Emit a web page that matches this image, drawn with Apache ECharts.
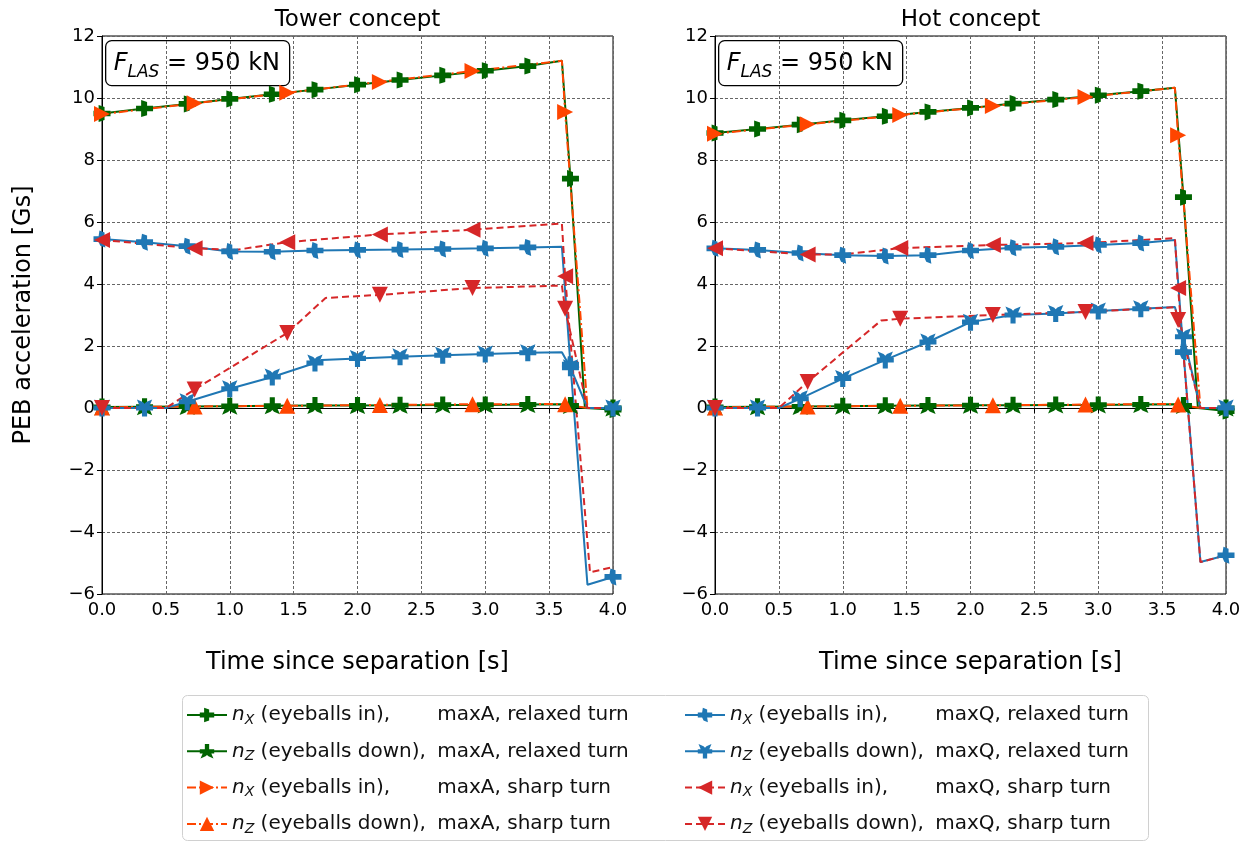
<!DOCTYPE html>
<html><head><meta charset="utf-8">
<script src="https://cdn.jsdelivr.net/npm/echarts@6/dist/echarts.min.js"></script>
<style>html,body{margin:0;padding:0;background:#fff}#c{width:1253px;height:843px}</style>
</head><body><div id="c"></div>
<script>
// ---------- marker times ----------
const markTimesRelaxed = [0, 0.333, 0.667, 1.0, 1.333, 1.667, 2.0, 2.333, 2.667, 3.0, 3.333, 3.667, 4.0];
const markTimesSharp = [0, 0.725, 1.45, 2.175, 2.9, 3.625];

// ---------- Tower concept ----------
const towerNxMaxARelaxedMarks = [9.5, 9.66, 9.81, 9.97, 10.12, 10.27, 10.43, 10.58, 10.73, 10.88, 11.03, 7.4, -0.05];
const towerNxMaxARelaxedBends = [[3.6, 11.2], [3.78, 0]];
const towerNzMaxARelaxedMarks = [0.03, 0.04, 0.05, 0.06, 0.07, 0.08, 0.08, 0.09, 0.1, 0.1, 0.11, 0.08, 0];
const towerNzMaxARelaxedBends = [[3.6, 0.12], [3.78, 0]];
const towerNxMaxASharpMarks = [9.48, 9.83, 10.17, 10.52, 10.87, 9.55];
const towerNxMaxASharpBends = [[3.6, 11.2], [3.8, 0], [4.0, 0]];
const towerNzMaxASharpMarks = [0.02, 0.05, 0.07, 0.1, 0.12, 0.12];
const towerNzMaxASharpBends = [[3.6, 0.13], [3.8, 0], [4.0, 0]];
const towerNxMaxQRelaxedMarks = [5.45, 5.35, 5.22, 5.05, 5.04, 5.08, 5.1, 5.11, 5.13, 5.15, 5.18, 1.4, -5.45];
const towerNxMaxQRelaxedBends = [[3.6, 5.2], [3.8, -5.7]];
const towerNzMaxQRelaxedMarks = [0, 0, 0.2, 0.62, 1.0, 1.45, 1.6, 1.65, 1.7, 1.74, 1.78, 1.3, 0];
const towerNzMaxQRelaxedBends = [[0.5, 0], [1.72, 1.55], [3.6, 1.8], [3.8, 0]];
const towerNxMaxQSharpMarks = [5.42, 5.15, 5.35, 5.6, 5.75, 4.25];
const towerNxMaxQSharpBends = [[1.05, 5.1], [3.6, 5.95], [3.82, -5.3], [4.0, -5.13]];
const towerNzMaxQSharpMarks = [0, 0.6, 2.42, 3.65, 3.87, 3.2];
const towerNzMaxQSharpBends = [[0.5, 0], [1.75, 3.55], [3.6, 3.95], [3.8, 0], [4.0, 0]];

// ---------- Hot concept ----------
const hotNxMaxARelaxedMarks = [8.87, 9.0, 9.14, 9.28, 9.41, 9.55, 9.68, 9.82, 9.95, 10.09, 10.22, 6.8, -0.1];
const hotNxMaxARelaxedBends = [[3.6, 10.33], [3.78, 0]];
const hotNzMaxARelaxedMarks = [0.03, 0.04, 0.05, 0.06, 0.07, 0.08, 0.09, 0.09, 0.1, 0.1, 0.11, 0.08, 0];
const hotNzMaxARelaxedBends = [[3.6, 0.12], [3.78, 0]];
const hotNxMaxASharpMarks = [8.85, 9.15, 9.45, 9.74, 10.03, 8.8];
const hotNxMaxASharpBends = [[3.6, 10.33], [3.8, 0], [4.0, 0]];
const hotNzMaxASharpMarks = [0.02, 0.05, 0.07, 0.09, 0.11, 0.11];
const hotNzMaxASharpBends = [[3.6, 0.13], [3.8, 0], [4.0, 0]];
const hotNxMaxQRelaxedMarks = [5.15, 5.1, 5.0, 4.93, 4.9, 4.93, 5.08, 5.17, 5.2, 5.26, 5.32, 1.8, -4.75];
const hotNxMaxQRelaxedBends = [[3.6, 5.42], [3.8, -4.97]];
const hotNzMaxQRelaxedMarks = [0, 0, 0.3, 0.95, 1.55, 2.13, 2.77, 3.0, 3.05, 3.13, 3.2, 2.3, 0];
const hotNzMaxQRelaxedBends = [[0.5, 0], [3.6, 3.26], [3.8, 0]];
const hotNxMaxQSharpMarks = [5.15, 4.95, 5.16, 5.26, 5.32, 3.87];
const hotNxMaxQSharpBends = [[1.0, 4.95], [3.6, 5.48], [3.8, -4.97], [4.0, -4.75]];
const hotNzMaxQSharpMarks = [0, 0.84, 2.88, 3.0, 3.1, 2.84];
const hotNzMaxQSharpBends = [[0.5, 0], [1.3, 2.82], [3.6, 3.25], [3.8, 0], [4.0, 0]];

// ---------- text ----------
const panelTitles = ['Tower concept', 'Hot concept'];
const xAxisName = 'Time since separation [s]';
const yAxisName = 'PEB acceleration [Gs]';
const seriesNames = ['nx_maxA_relaxed', 'nz_maxA_relaxed', 'nx_maxA_sharp', 'nz_maxA_sharp',
                     'nx_maxQ_relaxed', 'nz_maxQ_relaxed', 'nx_maxQ_sharp', 'nz_maxQ_sharp'];
const legendLabels = {
  nx_maxA_relaxed: '{n|n}{s|X}{p| (eyeballs in),}{t|maxA, relaxed turn}',
  nz_maxA_relaxed: '{n|n}{s|Z}{p| (eyeballs down),}{t|maxA, relaxed turn}',
  nx_maxA_sharp:   '{n|n}{s|X}{p| (eyeballs in),}{t|maxA, sharp turn}',
  nz_maxA_sharp:   '{n|n}{s|Z}{p| (eyeballs down),}{t|maxA, sharp turn}',
  nx_maxQ_relaxed: '{n|n}{s|X}{p| (eyeballs in),}{t|maxQ, relaxed turn}',
  nz_maxQ_relaxed: '{n|n}{s|Z}{p| (eyeballs down),}{t|maxQ, relaxed turn}',
  nx_maxQ_sharp:   '{n|n}{s|X}{p| (eyeballs in),}{t|maxQ, sharp turn}',
  nz_maxQ_sharp:   '{n|n}{s|Z}{p| (eyeballs down),}{t|maxQ, sharp turn}'
};

const FONT = 'DejaVu Sans';
const NX_G = 'path://M0,7 L6,7 L6,1 L13,3 L13,7 L20,7 L20,13 L13,13 L13,17 L6,19 L6,13 L0,13 Z';
const NZ_G = 'path://M7,0 L13,0 L13,7 L20,7 L20,13 L16,13 L19,20 L12,17 L10,15 L8,17 L1,20 L4,13 L0,13 L0,7 L7,7 Z';
const NX_B = 'path://M0,7 L6,7 L7,1 L13,3 L13,7 L20,7 L20,13 L13,13 L14,19 L8,17 L6,13 L0,13 Z';
const NZ_B = 'path://M1,0 L8,3 L10,5 L12,3 L19,0 L16,7 L20,7 L20,13 L13,13 L13,20 L7,20 L7,13 L0,13 L0,7 L4,7 Z';
const TRI_R = 'path://M0,0 L9,5 L0,10 Z';
const TRI_L = 'path://M9,0 L0,5 L9,10 Z';
const TRI_U = 'path://M0,9 L5,0 L10,9 Z';
const TRI_D = 'path://M0,0 L10,0 L5,9 Z';

const styles = {
  nx_maxA_relaxed: {color: '#006400', symbol: NX_G, type: 'solid', size: 17, relaxed: true},
  nz_maxA_relaxed: {color: '#006400', symbol: NZ_G, type: 'solid', size: 17, relaxed: true},
  nx_maxA_sharp:   {color: '#ff4500', symbol: TRI_R, type: [9, 3, 2, 3], size: 16, relaxed: false},
  nz_maxA_sharp:   {color: '#ff4500', symbol: TRI_U, type: [9, 3, 2, 3], size: 16, relaxed: false},
  nx_maxQ_relaxed: {color: '#1f77b4', symbol: NX_B, type: 'solid', size: 17, relaxed: true},
  nz_maxQ_relaxed: {color: '#1f77b4', symbol: NZ_B, type: 'solid', size: 17, relaxed: true},
  nx_maxQ_sharp:   {color: '#d62728', symbol: TRI_L, type: [7, 4], size: 16, relaxed: false},
  nz_maxQ_sharp:   {color: '#d62728', symbol: TRI_D, type: [7, 4], size: 16, relaxed: false}
};

const panelData = [
  {
    nx_maxA_relaxed: [towerNxMaxARelaxedMarks, towerNxMaxARelaxedBends],
    nz_maxA_relaxed: [towerNzMaxARelaxedMarks, towerNzMaxARelaxedBends],
    nx_maxA_sharp: [towerNxMaxASharpMarks, towerNxMaxASharpBends],
    nz_maxA_sharp: [towerNzMaxASharpMarks, towerNzMaxASharpBends],
    nx_maxQ_relaxed: [towerNxMaxQRelaxedMarks, towerNxMaxQRelaxedBends],
    nz_maxQ_relaxed: [towerNzMaxQRelaxedMarks, towerNzMaxQRelaxedBends],
    nx_maxQ_sharp: [towerNxMaxQSharpMarks, towerNxMaxQSharpBends],
    nz_maxQ_sharp: [towerNzMaxQSharpMarks, towerNzMaxQSharpBends]
  },
  {
    nx_maxA_relaxed: [hotNxMaxARelaxedMarks, hotNxMaxARelaxedBends],
    nz_maxA_relaxed: [hotNzMaxARelaxedMarks, hotNzMaxARelaxedBends],
    nx_maxA_sharp: [hotNxMaxASharpMarks, hotNxMaxASharpBends],
    nz_maxA_sharp: [hotNzMaxASharpMarks, hotNzMaxASharpBends],
    nx_maxQ_relaxed: [hotNxMaxQRelaxedMarks, hotNxMaxQRelaxedBends],
    nz_maxQ_relaxed: [hotNzMaxQRelaxedMarks, hotNzMaxQRelaxedBends],
    nx_maxQ_sharp: [hotNxMaxQSharpMarks, hotNxMaxQSharpBends],
    nz_maxQ_sharp: [hotNzMaxQSharpMarks, hotNzMaxQSharpBends]
  }
];

function build(times, marks, bends) {
  const pts = marks.map((v, i) => ({value: [times[i], v]}));
  bends.forEach(b => pts.push({value: [b[0], b[1]], symbol: 'none'}));
  pts.sort((a, b) => a.value[0] - b.value[0]);
  return pts;
}

const GRID_LEFT = [102, 715];
const grids = GRID_LEFT.map(l => ({left: l, top: 36, width: 511, height: 558, show: true,
  borderColor: '#000', borderWidth: 1, backgroundColor: 'transparent', containLabel: false}));

const xAxes = [0, 1].map(i => ({
  type: 'value', gridIndex: i, min: 0, max: 4, interval: 0.5,
  name: xAxisName, nameLocation: 'middle', nameGap: 57,
  nameTextStyle: {fontFamily: FONT, fontSize: 24, color: '#000'},
  axisLine: {show: true, lineStyle: {color: '#000', width: 1}},
  axisTick: {show: true, inside: false, length: 5, lineStyle: {color: '#000'}},
  axisLabel: {fontFamily: FONT, fontSize: 18, color: '#000', margin: 7, formatter: v => v.toFixed(1)},
  splitLine: {show: true, lineStyle: {color: '#666', width: 1, type: [3, 2]}}
}));
const yAxes = [0, 1].map(i => ({
  type: 'value', gridIndex: i, min: -6, max: 12, interval: 2,
  name: i === 0 ? yAxisName : '', nameLocation: 'middle', nameGap: 66,
  nameTextStyle: {fontFamily: FONT, fontSize: 24, color: '#000'},
  axisLine: {show: true, lineStyle: {color: '#000', width: 1}},
  axisTick: {show: true, inside: false, length: 5, lineStyle: {color: '#000'}},
  axisLabel: {fontFamily: FONT, fontSize: 18, color: '#000', margin: 7,
    formatter: v => v < 0 ? '\u2212' + Math.abs(v) : String(v)},
  splitLine: {show: true, lineStyle: {color: '#666', width: 1, type: [3, 2]}}
}));

const series = [];
[0, 1].forEach(p => {
  seriesNames.forEach(name => {
    const st = styles[name];
    const [marks, bends] = panelData[p][name];
    series.push({
      type: 'line', name: name, xAxisIndex: p, yAxisIndex: p,
      data: build(st.relaxed ? markTimesRelaxed : markTimesSharp, marks, bends),
      showSymbol: true, showAllSymbol: true, symbol: st.symbol, symbolSize: st.size,
      itemStyle: {color: st.color, borderColor: st.color, borderWidth: 0},
      lineStyle: {color: st.color, width: 2, type: st.type},
      animation: false, silent: true, clip: true
    });
  });
});

const legendRich = {
  n: {fontFamily: FONT, fontStyle: 'italic', fontSize: 20, lineHeight: 24, color: '#111'},
  s: {fontFamily: FONT, fontStyle: 'italic', fontSize: 14, lineHeight: 13, verticalAlign: 'bottom', color: '#111'},
  p: {fontFamily: FONT, fontSize: 20, lineHeight: 24, width: 183, color: '#111'},
  t: {fontFamily: FONT, fontSize: 20, lineHeight: 24, color: '#111'}
};
const legendBase = {
  orient: 'vertical', top: 705, height: 170, padding: 0, itemWidth: 40, itemHeight: 18, itemGap: 14.3,
  formatter: n => legendLabels[n], selectedMode: false,
  textStyle: {fontFamily: FONT, fontSize: 20, color: '#111', rich: legendRich}
};

function flasBox(x) {
  return {
    type: 'group', left: x, top: 40, children: [
      {type: 'rect', shape: {x: 0, y: 0, width: 184, height: 45, r: 6},
       style: {fill: '#fff', stroke: '#000', lineWidth: 1.3}},
      {type: 'text', x: 8, y: 23, style: {
        text: '{f|F}{s|LAS}{r| = 950 kN}', verticalAlign: 'middle', align: 'left',
        rich: {
          f: {fontFamily: FONT, fontStyle: 'italic', fontSize: 24, lineHeight: 34, fill: '#000'},
          s: {fontFamily: FONT, fontStyle: 'italic', fontSize: 17, lineHeight: 18, verticalAlign: 'bottom', fill: '#000'},
          r: {fontFamily: FONT, fontSize: 24, lineHeight: 34, fill: '#000'}
        }}}
    ]
  };
}

const option = {
  backgroundColor: '#fff',
  animation: false,
  grid: grids,
  xAxis: xAxes,
  yAxis: yAxes,
  legend: [
    Object.assign({}, legendBase, {left: 186, data: seriesNames.slice(0, 4)}),
    Object.assign({}, legendBase, {left: 684, data: seriesNames.slice(4)})
  ],
  graphic: [
    {type: 'rect', left: 182, top: 695, z: -1, shape: {x: 0, y: 0, width: 966, height: 145, r: 5},
     style: {fill: '#fff', stroke: '#d0d0d0', lineWidth: 1}},
    {type: 'text', x: 357.5, y: 20, style: {text: panelTitles[0], font: '23px "DejaVu Sans"', fill: '#000', align: 'center', verticalAlign: 'middle'}},
    {type: 'text', x: 970.5, y: 20, style: {text: panelTitles[1], font: '23px "DejaVu Sans"', fill: '#000', align: 'center', verticalAlign: 'middle'}},
    flasBox(105),
    flasBox(718)
  ],
  series: series
};

const chart = echarts.init(document.getElementById('c'), null, {renderer: 'canvas'});
chart.setOption(option);
</script>
</body></html>
